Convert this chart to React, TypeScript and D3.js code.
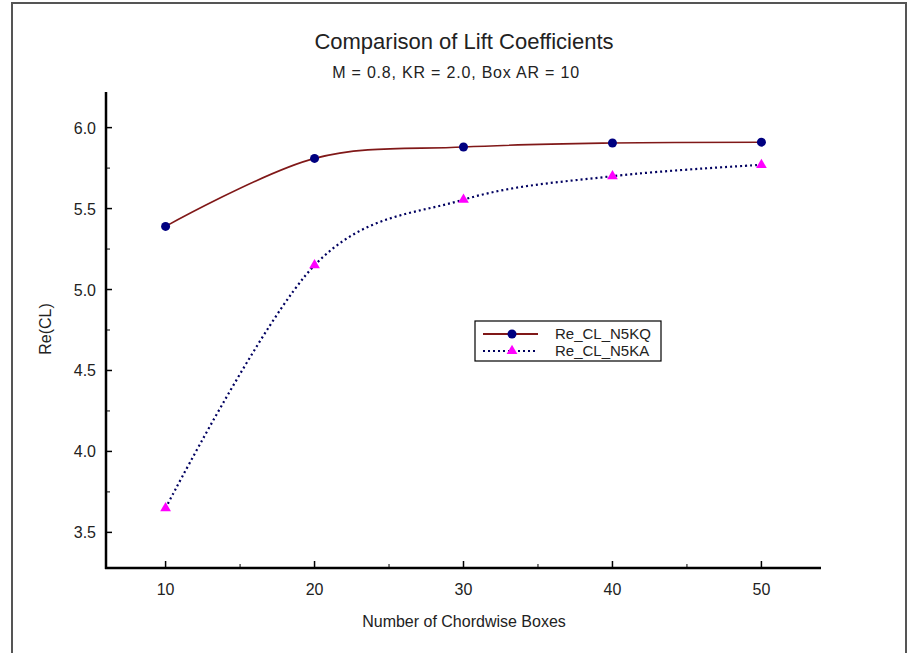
import React, { useEffect, useRef } from 'react'
import * as d3 from 'd3'

const boxes = [10, 20, 30, 40, 50]
const reClN5KQ = [5.39, 5.81, 5.88, 5.905, 5.91]
const reClN5KA = [3.65, 5.15, 5.555, 5.70, 5.77]
const seriesNames = ['Re_CL_N5KQ', 'Re_CL_N5KA']
const yTicks = [3.5, 4.0, 4.5, 5.0, 5.5, 6.0]
const yMinor = [3.75, 4.25, 4.75, 5.25, 5.75]
const xTicks = [10, 20, 30, 40, 50]
const xMinor = [15, 25, 35, 45]

const W = 910, H = 653
const FONT = 'Arial, "Liberation Sans", sans-serif'

export default function App() {
  const svgRef = useRef<SVGSVGElement>(null)

  useEffect(() => {
    const svg = d3.select(svgRef.current)
    svg.selectAll('*').remove()

    const left = 106, right = 821, top = 92, bottom = 568

    const x = d3.scaleLinear().domain([6, 54]).range([left, right])
    const y = d3.scaleLinear().domain([3.28, 6.22]).range([bottom, top])

    // outer frame
    svg.append('rect')
      .attr('x', 12).attr('y', 3)
      .attr('width', 894).attr('height', 700)
      .attr('fill', '#fff')
      .attr('stroke', '#555').attr('stroke-width', 2)

    // titles
    svg.append('text')
      .attr('x', 464).attr('y', 49)
      .attr('text-anchor', 'middle')
      .style('font', `22px ${FONT}`).attr('fill', '#222')
      .text('Comparison of Lift Coefficients')
    svg.append('text')
      .attr('x', 456).attr('y', 78)
      .attr('text-anchor', 'middle')
      .style('font', `16px ${FONT}`).style('letter-spacing', '0.8px').attr('fill', '#222')
      .text('M = 0.8, KR = 2.0, Box AR = 10')

    const g = svg.append('g')

    // y ticks (inward)
    g.selectAll('.ymaj').data(yTicks).enter().append('line')
      .attr('x1', left).attr('x2', left + 6)
      .attr('y1', d => y(d)).attr('y2', d => y(d))
      .attr('stroke', '#000').attr('stroke-width', 1.5)
    g.selectAll('.ymin').data(yMinor).enter().append('line')
      .attr('x1', left).attr('x2', left + 4)
      .attr('y1', d => y(d)).attr('y2', d => y(d))
      .attr('stroke', '#000').attr('stroke-width', 1)
    g.selectAll('.ylab').data(yTicks).enter().append('text')
      .attr('x', left - 10).attr('y', d => y(d) + 6)
      .attr('text-anchor', 'end')
      .style('font', `16px ${FONT}`).attr('fill', '#222')
      .text(d => d3.format('.1f')(d))

    // x ticks (inward)
    g.selectAll('.xmaj').data(xTicks).enter().append('line')
      .attr('x1', d => x(d)).attr('x2', d => x(d))
      .attr('y1', bottom).attr('y2', bottom - 7)
      .attr('stroke', '#000').attr('stroke-width', 1.5)
    g.selectAll('.xmin').data(xMinor).enter().append('line')
      .attr('x1', d => x(d)).attr('x2', d => x(d))
      .attr('y1', bottom).attr('y2', bottom - 4)
      .attr('stroke', '#000').attr('stroke-width', 1)
    g.selectAll('.xlab').data(xTicks).enter().append('text')
      .attr('x', d => x(d)).attr('y', bottom + 27)
      .attr('text-anchor', 'middle')
      .style('font', `16px ${FONT}`).attr('fill', '#222')
      .text(d => d)

    // axis lines
    g.append('line')
      .attr('x1', left).attr('x2', left).attr('y1', top).attr('y2', bottom + 1)
      .attr('stroke', '#000').attr('stroke-width', 2.5)
    g.append('line')
      .attr('x1', left - 1).attr('x2', right).attr('y1', bottom).attr('y2', bottom)
      .attr('stroke', '#000').attr('stroke-width', 2.5)

    // axis titles
    g.append('text')
      .attr('x', 464).attr('y', 627)
      .attr('text-anchor', 'middle')
      .style('font', `16px ${FONT}`).attr('fill', '#222')
      .text('Number of Chordwise Boxes')
    g.append('text')
      .attr('transform', 'translate(51,329) rotate(-90)')
      .attr('text-anchor', 'middle')
      .style('font', `16px ${FONT}`).attr('fill', '#222')
      .text('Re(CL)')

    const line = d3.line<number>()
      .x((d, i) => x(boxes[i]))
      .y(d => y(d))
      .curve(d3.curveCardinal.tension(0))

    // series 1
    g.append('path').datum(reClN5KQ)
      .attr('d', line)
      .attr('fill', 'none').attr('stroke', '#801818').attr('stroke-width', 1.6)
    g.selectAll('.c1').data(reClN5KQ).enter().append('circle')
      .attr('cx', (d, i) => x(boxes[i])).attr('cy', d => y(d))
      .attr('r', 4.5).attr('fill', '#000080')

    // series 2
    g.append('path').datum(reClN5KA)
      .attr('d', line)
      .attr('fill', 'none').attr('stroke', '#000060').attr('stroke-width', 2.2)
      .attr('stroke-dasharray', '2,3')
    const tri = d3.symbol().type(d3.symbolTriangle).size(50)
    g.selectAll('.t1').data(reClN5KA).enter().append('path')
      .attr('d', tri)
      .attr('transform', (d, i) => `translate(${x(boxes[i])},${y(d)})`)
      .attr('fill', '#ff00ff')

    // legend
    const lg = g.append('g').attr('transform', 'translate(475,321)')
    lg.append('rect')
      .attr('width', 186).attr('height', 40)
      .attr('fill', '#fff').attr('stroke', '#000').attr('stroke-width', 1.2)
    seriesNames.forEach((name, i) => {
      const ly = 13 + i * 17
      lg.append('line')
        .attr('x1', 8).attr('x2', 63).attr('y1', ly).attr('y2', ly)
        .attr('stroke', i === 0 ? '#801818' : '#000060')
        .attr('stroke-width', i === 0 ? 2 : 2.2)
        .attr('stroke-dasharray', i === 0 ? null : '2,3')
      if (i === 0) {
        lg.append('circle').attr('cx', 37).attr('cy', ly).attr('r', 4.5).attr('fill', '#000080')
      } else {
        lg.append('path').attr('d', tri).attr('transform', `translate(37,${ly})`).attr('fill', '#ff00ff')
      }
      lg.append('text')
        .attr('x', 80).attr('y', ly + 5)
        .style('font', `15px ${FONT}`).attr('fill', '#222')
        .text(name)
    })
  }, [])

  return (
    <svg ref={svgRef} width={W} height={H}
      style={{ position: 'absolute', left: 0, top: 0, background: '#fff' }} />
  )
}
